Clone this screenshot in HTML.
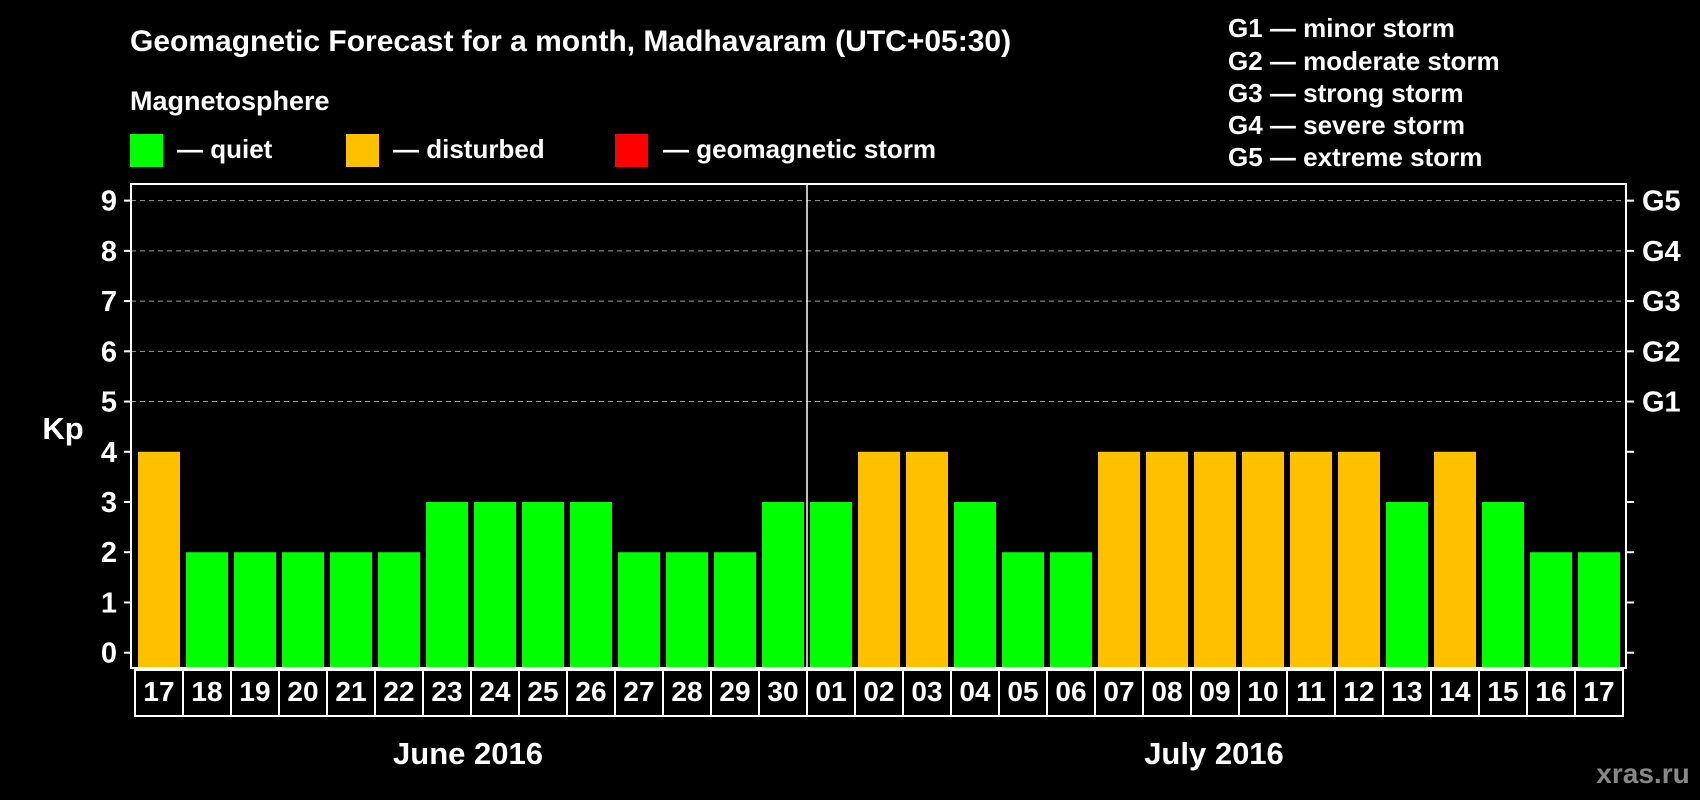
<!DOCTYPE html>
<html><head><meta charset="utf-8"><style>
html,body{margin:0;padding:0;background:#000;}
svg{display:block;font-family:"Liberation Sans",Arial,sans-serif;font-weight:bold;}
</style></head><body>
<svg id="chart" width="1700" height="800" viewBox="0 0 1700 800" xmlns="http://www.w3.org/2000/svg">
<text x="130" y="51" fill="#fff" font-size="30">Geomagnetic Forecast for a month, Madhavaram (UTC+05:30)</text>
<text x="130" y="110" fill="#fff" font-size="27">Magnetosphere</text>
<rect x="130" y="134" width="33" height="33" fill="#00ff00"/>
<text x="177" y="158" fill="#fff" font-size="26">— quiet</text>
<rect x="346" y="134" width="33" height="33" fill="#ffc000"/>
<text x="393" y="158" fill="#fff" font-size="26">— disturbed</text>
<rect x="615" y="134" width="33" height="33" fill="#ff0000"/>
<text x="663" y="158" fill="#fff" font-size="26">— geomagnetic storm</text>
<g fill="#fff" font-size="26">
<text x="1228" y="37">G1 — minor storm</text>
<text x="1228" y="70">G2 — moderate storm</text>
<text x="1228" y="102">G3 — strong storm</text>
<text x="1228" y="134">G4 — severe storm</text>
<text x="1228" y="166">G5 — extreme storm</text>
</g>
<text x="63" y="439" fill="#fff" font-size="31" text-anchor="middle">Kp</text>
<g id="grid"></g><g id="bars"></g><g id="axes"></g>
<text x="468" y="764" fill="#fff" font-size="31" text-anchor="middle">June 2016</text>
<text x="1214" y="764" fill="#fff" font-size="31" text-anchor="middle">July 2016</text>
<text x="1643" y="783" fill="#888" font-size="28" text-anchor="middle">xras.ru</text>
</svg>
<script>
const days=["17","18","19","20","21","22","23","24","25","26","27","28","29","30","01","02","03","04","05","06","07","08","09","10","11","12","13","14","15","16","17"];
const kp=[4,2,2,2,2,2,3,3,3,3,2,2,2,3,3,4,4,3,2,2,4,4,4,4,4,4,3,4,3,2,2];
const yTicks=[0,1,2,3,4,5,6,7,8,9];
const gLabels=["G1","G2","G3","G4","G5"];
const NS="http://www.w3.org/2000/svg";
const L=131,R=1626,T=184,B=668,x0=138,pitch=48,bw=42;
function y(v){return 652.7-v*50.23;}
function x(i){return x0+i*pitch;}
function mk(parent,tag,attrs){const e=document.createElementNS(NS,tag);for(const k in attrs)e.setAttribute(k,attrs[k]);document.getElementById(parent).appendChild(e);return e;}
yTicks.forEach(v=>{
  if(v>=5){const g=mk('grid','line',{x1:L,x2:R,y1:y(v),y2:y(v),stroke:'#999','stroke-dasharray':'5,4','stroke-width':1});
  
  }
  const t1=mk('axes','line',{x1:L-7,x2:L,y1:y(v),y2:y(v),stroke:'#fff','stroke-width':2});
  
  
  const t2=mk('axes','line',{x1:R,x2:R+8,y1:y(v),y2:y(v),stroke:'#fff','stroke-width':2});
  
  
  const lb=mk('axes','text',{x:117,y:y(v)+10,fill:'#fff','font-size':29,'text-anchor':'end'});
  lb.textContent=v;
  
  
});
gLabels.forEach((g,i)=>{
  const t=mk('axes','text',{x:1642,y:y(5+i)+10,fill:'#fff','font-size':29});
  t.textContent=g;
  
  
});
kp.forEach((v,i)=>{
  const b=mk('bars','rect',{x:x(i),y:y(v),width:bw,height:B-y(v),fill:v>=5?'#ff0000':(v>=4?'#ffc000':'#00ff00')});
  
  
  const c=mk('axes','rect',{x:x(i)-3,y:670,width:pitch,height:46,fill:'none',stroke:'#fff','stroke-width':2});
  
  
  const t=mk('axes','text',{x:x(i)+bw/2,y:701,fill:'#fff','font-size':28,'text-anchor':'middle'});
  t.textContent=days[i];
  
  
});
const fr=mk('axes','rect',{x:L,y:T,width:R-L,height:B-T,fill:'none',stroke:'#fff','stroke-width':2});


const mi=days.indexOf("01");
const dv=mk('axes','line',{x1:x(mi)-3,x2:x(mi)-3,y1:T,y2:716,stroke:'#fff','stroke-width':1.5});


</script>
</body></html>
